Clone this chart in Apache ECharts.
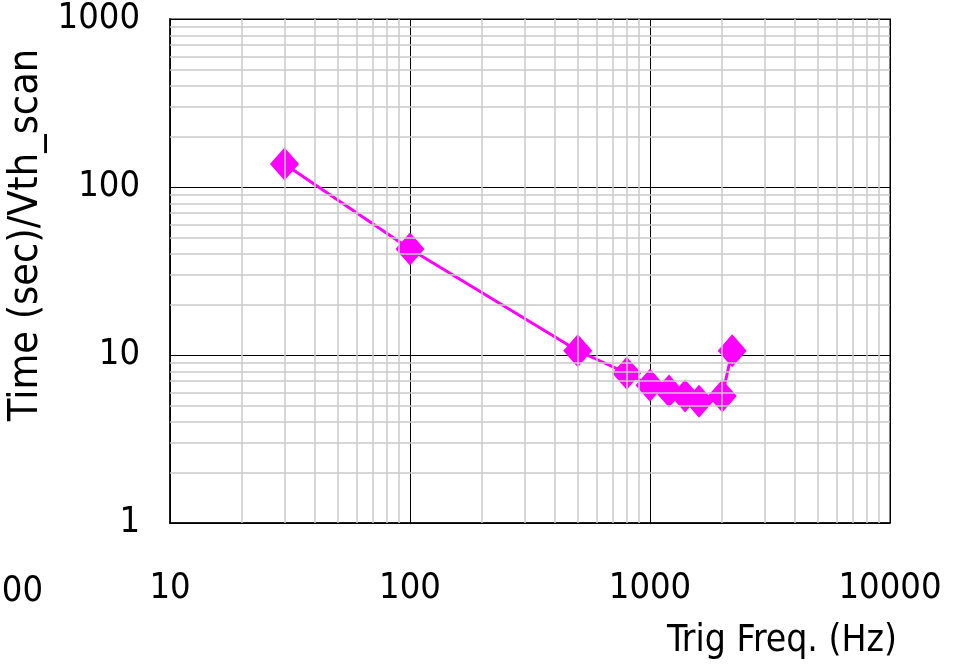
<!DOCTYPE html>
<html><head><meta charset="utf-8">
<script src="https://cdn.jsdelivr.net/npm/echarts@6/dist/echarts.min.js"></script>
<style>html,body{margin:0;padding:0;background:#fff}#c{width:956px;height:672px}</style>
</head><body><div id="c"></div>
<script>
var freq = [30, 100, 500, 800, 1000, 1200, 1400, 1600, 2000, 2200];
var timePerScan = [137, 42.8, 10.6, 7.8, 6.6, 6.1, 5.7, 5.3, 5.7, 10.6];
var xMinorGrid = [20,30,40,50,60,70,80,90,200,300,400,500,600,700,800,900,2000,3000,4000,5000,6000,7000,8000,9000];
var yMinorGrid = [2,3,4,5,6,7,8,9,20,30,40,50,60,70,80,90,200,300,400,500,600,700,800,900];
var xTitle = 'Trig Freq. (Hz)';
var yTitle = 'Time (sec)/Vth_scan';

var FONT = '"DejaVu Sans Condensed","Liberation Sans",sans-serif';
var FS = 36;
var chart = echarts.init(document.getElementById('c'), null, {renderer:'canvas'});
var minorLines = xMinorGrid.map(function(v){return {xAxis:v};})
  .concat(yMinorGrid.map(function(v){return {yAxis:v};}));
function plain(v){ return String(Math.round(v)); }
var points = freq.map(function(f,i){return [f,timePerScan[i]];});
chart.setOption({
  animation:false,
  backgroundColor:'#fff',
  grid:{left:170,right:66,top:19,bottom:149,outerBoundsMode:'none',containLabel:false,show:true,borderColor:'#808080',borderWidth:2,backgroundColor:'transparent'},
  xAxis:{type:'log',logBase:10,min:10,max:10000,
    axisLine:{show:true,lineStyle:{color:'#000',width:1.5}},
    axisTick:{show:false},
    splitLine:{show:true,lineStyle:{color:'#000',width:1}},
    axisLabel:{margin:48,fontFamily:FONT,fontSize:FS,color:'#000',formatter:plain},
    name:xTitle,nameLocation:'end',nameGap:7,
    nameTextStyle:{fontFamily:FONT,fontSize:37,color:'#000',align:'right',verticalAlign:'top',padding:[100,0,0,0]}
  },
  yAxis:{type:'log',logBase:10,min:1,max:1000,
    axisLine:{show:true,lineStyle:{color:'#000',width:1.5}},
    axisTick:{show:false},
    splitLine:{show:true,lineStyle:{color:'#000',width:1}},
    axisLabel:{margin:30,fontFamily:FONT,fontSize:FS,color:'#000',formatter:plain},
    name:yTitle,nameLocation:'middle',nameGap:117,
    nameTextStyle:{fontFamily:FONT,fontSize:41,color:'#000',padding:[0,0,0,72]}
  },
  graphic:[{type:'text',style:{text:'1000',x:43,y:592,textAlign:'right',textVerticalAlign:'middle',font:FS+'px '+FONT,fill:'#000'}}],
  series:[
    {type:'line',data:[],silent:true,z:1,
     markLine:{silent:true,symbol:['none','none'],label:{show:false},animation:false,
       lineStyle:{color:'#c8c8c8',width:1.5,type:'solid'},data:minorLines}},
    {type:'line',z:3,data:points,showSymbol:false,symbol:'none',silent:true,
     lineStyle:{color:'#ff00ff',width:3}},
    {type:'scatter',z:4,data:points,silent:true,
     symbol:'diamond',symbolSize:[29,33],
     itemStyle:{color:'#ff00ff',opacity:1,borderWidth:0}}
  ]
});
</script></body></html>
